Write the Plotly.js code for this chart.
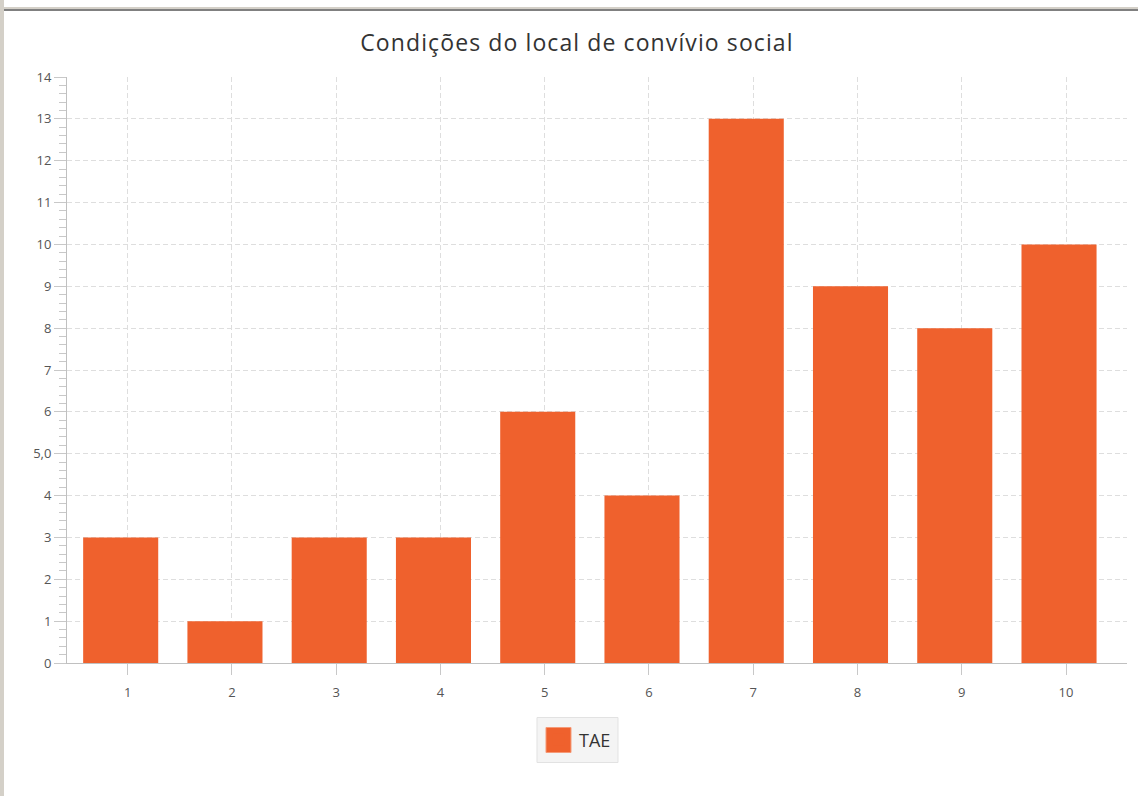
<!DOCTYPE html>
<html>
<head>
<meta charset="utf-8">
<script src="https://cdn.plot.ly/plotly-3.0.1.min.js"></script>
<style>
  html, body { margin: 0; padding: 0; background: #ffffff; }
  #wrap { position: relative; width: 1138px; height: 796px; overflow: hidden; }
  #chart { position: absolute; left: 0; top: 0; width: 1138px; height: 796px; }
  #leftbar { position: absolute; left: 0; top: 0; width: 4px; height: 796px; background: #d4d0c8; z-index: 5; }
  #topbar1 { position: absolute; left: 4px; top: 7px; width: 1134px; height: 2px; background: #d4d0c8; z-index: 5; }
  #topbar2 { position: absolute; left: 4px; top: 9px; width: 1134px; height: 2px; background: #808080; z-index: 5; }
  .gtitle { letter-spacing: 1.1px; }
</style>
</head>
<body>
<div id="wrap">
  <div id="chart"></div>
  <div id="leftbar"></div>
  <div id="topbar1"></div>
  <div id="topbar2"></div>
</div>
<script>
const chartTitle = "Condições do local de convívio social";
const seriesName = "TAE";
const categories = [1, 2, 3, 4, 5, 6, 7, 8, 9, 10];
const values = [3, 1, 3, 3, 6, 4, 13, 9, 8, 10];
const yTickVals = [0, 1, 2, 3, 4, 5, 6, 7, 8, 9, 10, 11, 12, 13, 14];
const yTickText = ["0", "1", "2", "3", "4", "5,0", "6", "7", "8", "9", "10", "11", "12", "13", "14"];
const xTickText = ["1", "2", "3", "4", "5", "6", "7", "8", "9", "10"];
const barColor = "#EF612D";

const trace = {
  type: "bar",
  name: seriesName,
  x: categories,
  y: values,
  width: 0.72,
  offset: -0.427,
  marker: { color: barColor, line: { width: 0 } },
  showlegend: true,
  hoverinfo: "x+y"
};

// legend decoration (box + larger swatch), anchored at legend centre in paper coords
const legX = 0.4816;           // paper x of legend box centre
const legY = -0.1314;          // paper y of legend box centre

const layout = {
  width: 1138,
  height: 796,
  paper_bgcolor: "#ffffff",
  plot_bgcolor: "#ffffff",
  margin: { l: 67, r: 11, t: 77, b: 133, pad: 0 },
  font: { family: "'Open Sans', 'DejaVu Sans', sans-serif", color: "#555555", size: 13 },
  title: {
    text: chartTitle,
    x: 0.507, xanchor: "center",
    y: 0.946, yanchor: "middle",
    font: { family: "'Open Sans', sans-serif", size: 23, color: "#333333" }
  },
  xaxis: {
    range: [0.418, 10.585],
    tickmode: "array",
    tickvals: categories,
    ticktext: xTickText,
    ticks: "outside",
    ticklen: 11,
    tickcolor: "#c8c8c8",
    tickwidth: 1,
    ticklabelstandoff: 6,
    showline: true,
    linecolor: "#c0c0c0",
    linewidth: 1,
    showgrid: true,
    gridcolor: "#dedede",
    griddash: "5px,3px",
    gridwidth: 1,
    zeroline: false,
    tickfont: { size: 13, color: "#555555" },
    fixedrange: true
  },
  yaxis: {
    range: [0, 14],
    tickmode: "array",
    tickvals: yTickVals,
    ticktext: yTickText,
    ticks: "outside",
    ticklen: 12,
    tickcolor: "#c8c8c8",
    tickwidth: 1,
    showline: true,
    linecolor: "#c0c0c0",
    linewidth: 1,
    showgrid: true,
    gridcolor: "#dedede",
    griddash: "5px,3px",
    gridwidth: 1,
    zeroline: false,
    minor: { dtick: 0.2, tick0: 0, ticks: "outside", ticklen: 7, tickcolor: "#c8c8c8", tickwidth: 1, showgrid: false },
    tickfont: { size: 13, color: "#555555" },
    fixedrange: true
  },
  showlegend: true,
  legend: {
    orientation: "h",
    x: 0.4816, xanchor: "center",
    y: -0.0981, yanchor: "top",
    bgcolor: "rgba(0,0,0,0)",
    bordercolor: "rgba(0,0,0,0)",
    borderwidth: 1,
    font: { family: "'Open Sans', sans-serif", size: 18, color: "#333333" },
    itemwidth: 30
  },
  shapes: [
    {
      type: "rect", layer: "above",
      xref: "paper", yref: "paper",
      xsizemode: "pixel", ysizemode: "pixel",
      xanchor: legX, yanchor: legY,
      x0: -40.5, x1: 40.5, y0: -22.5, y1: 22.5,
      fillcolor: "#f4f4f4",
      line: { color: "#e2e2e2", width: 1 }
    },
    {
      type: "rect", layer: "above",
      xref: "paper", yref: "paper",
      xsizemode: "pixel", ysizemode: "pixel",
      xanchor: legX, yanchor: legY,
      x0: -31.5, x1: -6.5, y0: -12.5, y1: 12.5,
      fillcolor: barColor,
      line: { color: "#f59a78", width: 1 }
    }
  ],
  bargap: 0.28
};

Plotly.newPlot("chart", [trace], layout, { displayModeBar: false, staticPlot: true });
</script>
</body>
</html>
